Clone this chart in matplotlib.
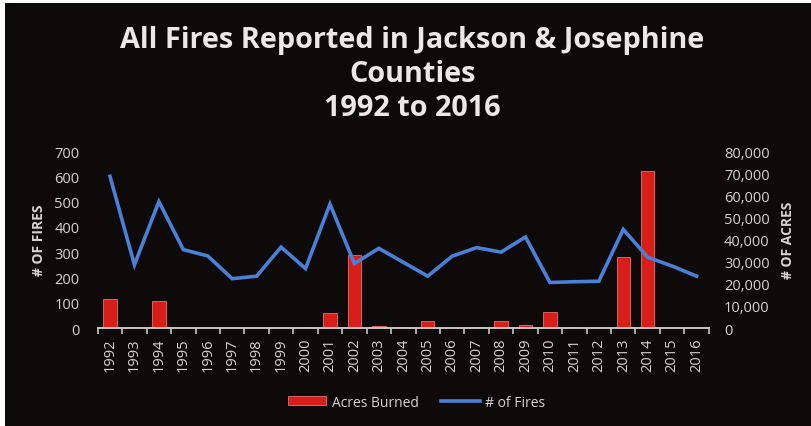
import matplotlib
matplotlib.use("Agg")
import matplotlib.pyplot as plt
from matplotlib.patches import Rectangle, Patch
from matplotlib.lines import Line2D
import numpy as np

years = [str(y) for y in range(1992, 2017)]
fires = [600, 250, 500, 310, 285, 195, 205, 320, 235, 490, 255, 315, 260,
         205, 284, 318, 300, 360, 180, 183, 185, 390, 280, 245, 205]
acres = [13000, 500, 12000, 200, 100, 100, 100, 200, 300, 6700, 33000, 1000, 300,
         3000, 200, 600, 3000, 1400, 7400, 400, 100, 32000, 71000, 100, 100]
left_ticks = [0, 100, 200, 300, 400, 500, 600, 700]
right_ticks = [0, 10000, 20000, 30000, 40000, 50000, 60000, 70000, 80000]

BG = "#0d0a09"
TXT = "#d6d3d0"
FONT = ["Open Sans", "DejaVu Sans"]
plt.rcParams["font.family"] = FONT

fig = plt.figure(figsize=(8.12, 4.27), dpi=100, facecolor=BG)
# white border strips (left and top) seen in the reference scan
fig.patches.append(Rectangle((0, 0), 5/812, 1, transform=fig.transFigure,
                             facecolor="white", edgecolor="none", zorder=10))
fig.patches.append(Rectangle((0, 1-4/427), 1, 4/427, transform=fig.transFigure,
                             facecolor="white", edgecolor="none", zorder=10))

ax = fig.add_axes([0.1204, 0.2295, 0.7525, 0.4145])
ax2 = ax.twinx()
ax.set_zorder(ax2.get_zorder() + 1)
ax.patch.set_visible(False)
ax2.patch.set_visible(False)

x = np.arange(len(years))
ax2.bar(x, acres, width=0.55, color="#d81e1a", edgecolor="#e9706a", linewidth=0.6)
ax.plot(x, fires, color="#4a80d8", linewidth=2.6, solid_joinstyle="miter")

ax.set_xlim(-0.5, len(years) - 0.5)
ax.set_ylim(0, 700)
ax2.set_ylim(0, 80000)

ax.set_yticks(left_ticks)
ax.set_yticklabels([str(v) for v in left_ticks])
ax2.set_yticks(right_ticks)
ax2.set_yticklabels([f"{v:,}" for v in right_ticks])

ax.set_xticks(x)
ax.set_xticklabels(years, rotation=90)
ax.set_xticks(np.arange(-0.5, len(years), 1.0), minor=True)

for a in (ax, ax2):
    for s in a.spines.values():
        s.set_visible(False)
ax.spines["bottom"].set_visible(True)
ax.spines["bottom"].set_color("#c9c6c2")
ax.spines["bottom"].set_linewidth(1.4)

ax.tick_params(axis="x", which="major", length=0, pad=7, colors=TXT, labelsize=10.5)
ax.tick_params(axis="x", which="minor", length=4, width=1.2, color="#c9c6c2")
ax.tick_params(axis="y", length=0, pad=13, colors=TXT, labelsize=10.5)
ax2.tick_params(axis="y", length=0, pad=11, colors=TXT, labelsize=10.5)

ax.set_ylabel("# OF FIRES", color=TXT, fontsize=10, fontweight="bold", labelpad=6)
ax2.set_ylabel("# OF ACRES", color=TXT, fontsize=10, fontweight="bold", labelpad=8, rotation=90)

fig.text(0.508, 0.826, "All Fires Reported in Jackson & Josephine\nCounties\n1992 to 2016",
         ha="center", va="center", color="#ebe8e5", fontsize=20.8, fontweight="bold",
         linespacing=1.22)

handles = [Patch(facecolor="#d81e1a", edgecolor="#e9706a", linewidth=0.6),
           Line2D([0], [0], color="#4a80d8", linewidth=2.6)]
leg = fig.legend(handles, ["Acres Burned", "# of Fires"], loc="center",
                 bbox_to_anchor=(0.513, 0.056), ncol=2, frameon=False,
                 fontsize=10, handlelength=2.8, handleheight=0.6, columnspacing=1.6,
                 handletextpad=0.4, labelcolor=TXT)

fig.savefig("out.png", dpi=100, facecolor=BG)
